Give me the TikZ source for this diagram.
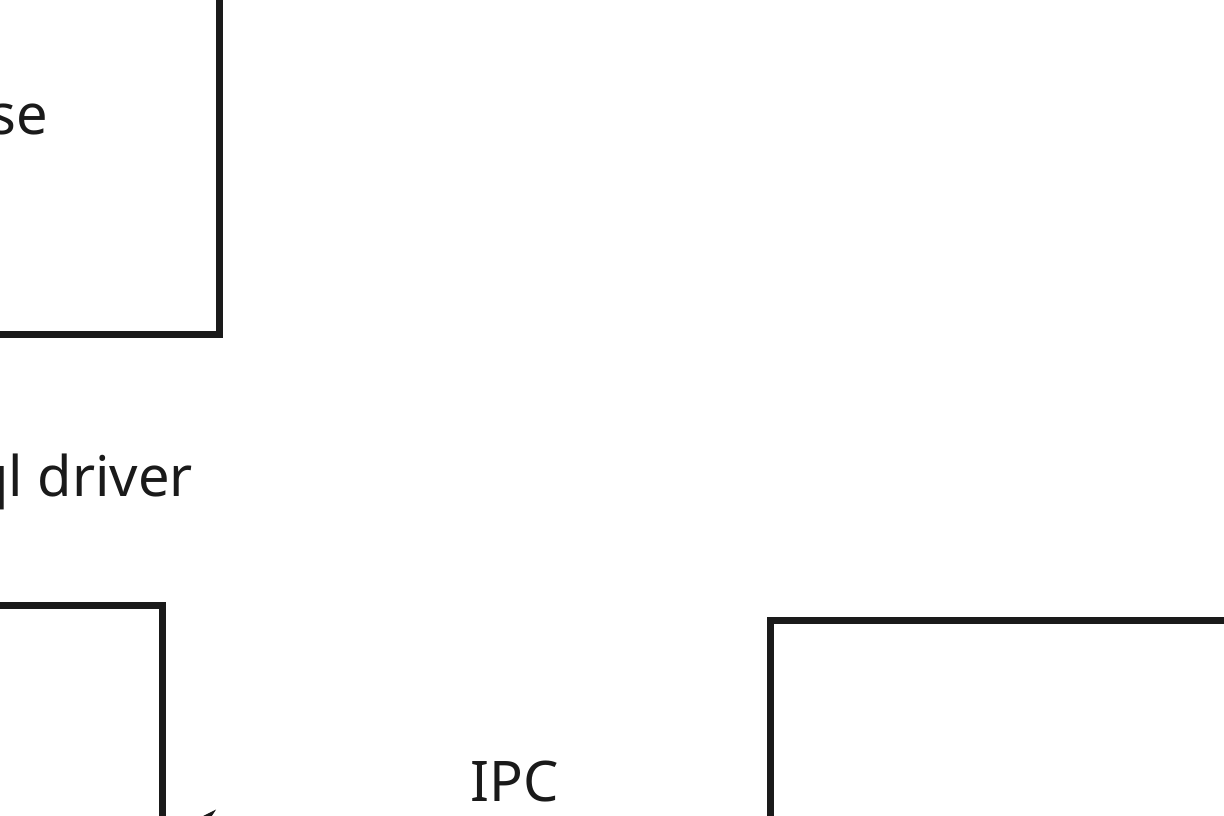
\documentclass[tikz,border=0pt]{standalone}
\usepackage{fontspec}
\setmainfont{Noto Sans}
\usepackage{xcolor}
\usetikzlibrary{arrows.meta, positioning}

\definecolor{inkdark}{HTML}{1A1A1A}

\begin{document}
\begin{tikzpicture}[x=1pt, y=-1pt, >=Stealth,
    blockbox/.style={draw=inkdark, line width=7pt, inner sep=0pt},
    label/.style={text=inkdark, font=\fontsize{56}{67}\selectfont, inner sep=0pt}]

    % =================================================================
    % 1. KHUNG HINH
    % =================================================================
    \useasboundingbox (0,0) rectangle (1224,816);
    \clip (0,0) rectangle (1224,816);

    % =================================================================
    % 2. CAC KHOI
    % =================================================================
    % Khoi tren ben trai
    \node[blockbox, minimum width=519pt, minimum height=534pt] (db) at (-40.5,67) {};
    % Khoi duoi ben trai
    \node[blockbox, minimum width=462pt, minimum height=395pt] (drv) at (-69,802.5) {};
    % Khoi duoi ben phai
    \node[blockbox, minimum width=700pt, minimum height=400pt] (app) at (1120,820) {};

    % =================================================================
    % 3. MUI TEN IPC
    % =================================================================
    \coordinate (ipcR) at (app.west |- 0,835);
    \coordinate (ipcL) at (drv.east |- 0,835);
    \draw[->, draw=inkdark, fill=inkdark, line width=7pt,
          arrows={-Stealth[length=50pt, width=50pt]}] (ipcR) -- (ipcL);

    % =================================================================
    % 4. NHAN
    % =================================================================
    \node[label, anchor=base east] (dbtext) at (48,134) {se};
    \node[label, anchor=base east] (drvtext) at (193,496) {ql driver};
    \node[label, anchor=base] (ipctext) at (515,801) {IPC};

\end{tikzpicture}
\end{document}
